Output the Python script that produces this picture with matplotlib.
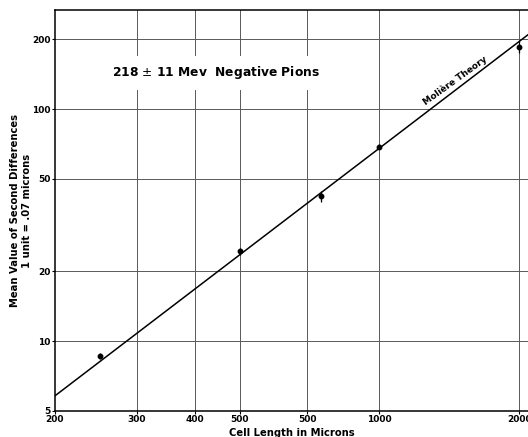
import numpy as np
import matplotlib
matplotlib.use("Agg")
import matplotlib.pyplot as plt
from matplotlib.ticker import FixedLocator, FixedFormatter, NullLocator

cell_length = [250, 500, 750, 1000, 2000]
mean_diff = [8.6, 24.4, 42.1, 68.9, 185.0]
mean_err = [0.25, 0.8, 2.2, 1.5, 10.5]

# Moliere theory line, values at the two ends of the x range
theory_x = [200, 2090]
theory_y = [5.81, 209.0]

xticks = [200, 300, 400, 500, 700, 1000, 2000]
xtick_labels = ['200', '300', '400', '500', '500', '1000', '2000']
yticks = [5, 10, 20, 50, 100, 200]
ytick_labels = ['5', '10', '20', '50', '100', '200']

plt.rcParams['font.family'] = 'DejaVu Sans'

fig = plt.figure(figsize=(5.28, 4.37), dpi=100)
ax = fig.add_axes([0.104, 0.0595, 0.896, 0.9175])

ax.set_xscale('log')
ax.set_yscale('log')
ax.set_xlim(200, 2090)
ax.set_ylim(5, 267)

for xv in xticks[1:]:
    ax.axvline(xv, color='0.35', lw=0.7, zorder=1)
for yv in yticks[1:]:
    ax.axhline(yv, color='0.35', lw=0.7, zorder=1)

ax.plot(theory_x, theory_y, color='black', lw=1.1, zorder=3)
ax.errorbar(cell_length, mean_diff, yerr=mean_err, fmt='o', color='black',
            markersize=3.2, elinewidth=0.9, capsize=0, zorder=4)

ax.xaxis.set_major_locator(FixedLocator(xticks))
ax.xaxis.set_major_formatter(FixedFormatter(xtick_labels))
ax.xaxis.set_minor_locator(NullLocator())
ax.yaxis.set_major_locator(FixedLocator(yticks))
ax.yaxis.set_major_formatter(FixedFormatter(ytick_labels))
ax.yaxis.set_minor_locator(NullLocator())
ax.tick_params(axis='both', length=2, width=0.8, pad=1, labelsize=6.5)
for lab in ax.get_xticklabels() + ax.get_yticklabels():
    lab.set_fontweight('bold')

ax.spines['right'].set_visible(False)
for s in ['left', 'bottom', 'top']:
    ax.spines[s].set_linewidth(1.1)

ax.text(266, 143, '218 $\\pm$ 11 Mev  Negative Pions', fontsize=8.8,
        fontweight='bold', va='center', ha='left', zorder=5,
        bbox=dict(facecolor='white', edgecolor='none', pad=6))
ax.text(1480, 127, 'Molière Theory', fontsize=6.5, fontweight='bold',
        rotation=36, rotation_mode='anchor', ha='center', va='bottom', zorder=5)

ax.set_xlabel('Cell Length in Microns', fontsize=7.2, fontweight='bold', labelpad=3)
ax.set_ylabel('Mean Value of Second Differences\n1 unit = .07 microns',
              fontsize=7.2, fontweight='bold', labelpad=0, linespacing=1.3)

fig.savefig('out.png', dpi=100)
